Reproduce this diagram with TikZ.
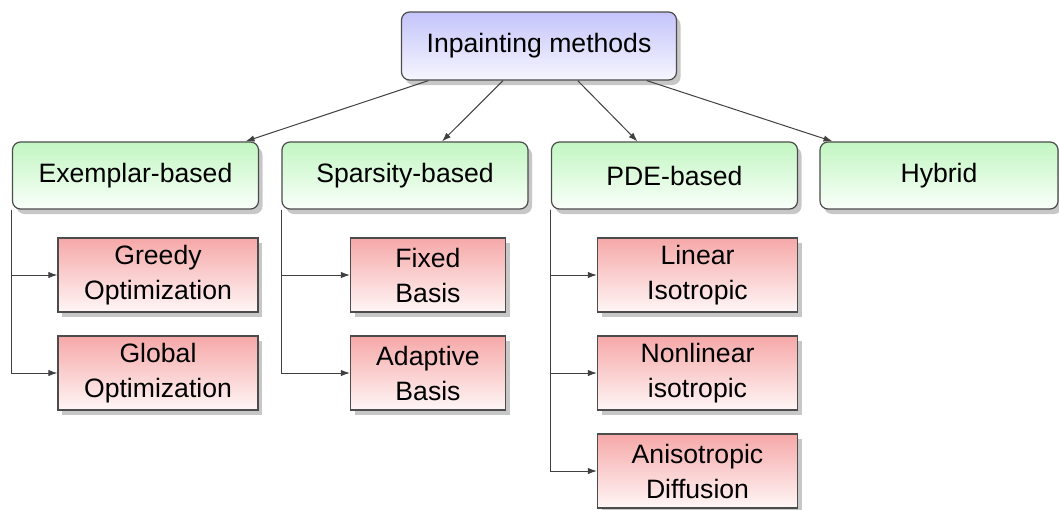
\documentclass[tikz,border=0pt]{standalone}
\usepackage{fontspec}
\setmainfont{Liberation Sans}
\usetikzlibrary{shadows,calc,arrows.meta}

\definecolor{rootTop}{RGB}{196,196,250}
\definecolor{rootBot}{RGB}{246,246,255}
\definecolor{grpTop}{RGB}{194,246,194}
\definecolor{grpBot}{RGB}{250,255,250}
\definecolor{leafTop}{RGB}{246,168,168}
\definecolor{leafBot}{RGB}{255,246,246}

\tikzset{
	box/.style={draw=black!70, line width=0.6pt, align=center, inner sep=0pt,
		font=\fontsize{13.3}{17.5}\selectfont,
		drop shadow={shadow xshift=2pt, shadow yshift=-2.5pt, fill=black!22, opacity=1}},
	rootbox/.style={box, rounded corners=4pt, top color=rootTop, bottom color=rootBot,
		minimum width=137.5pt, minimum height=34pt},
	grpbox/.style={box, rounded corners=4pt, top color=grpTop, bottom color=grpBot,
		minimum width=123pt, minimum height=33.5pt},
	leafbox/.style={box, top color=leafTop, bottom color=leafBot,
		minimum width=100pt, minimum height=37pt},
	link/.style={draw=black!75, line width=0.5pt, -{Latex[length=4.5pt,width=3.2pt]}}
}

\begin{document}
\begin{tikzpicture}[x=0.5pt,y=-0.5pt]
	\useasboundingbox (0,0) rectangle (1059,509);

	\node[rootbox] (root) at (539,46) {Inpainting methods};

	% second row
	\node[grpbox] (ex)  at (135.5,175.5) {Exemplar-based};
	\node[grpbox] (sp)  at (405,175.5) {Sparsity-based};
	\node[grpbox] (pde) at (674.5,175.5) {PDE-based};
	\node[grpbox, minimum width=119pt] (hyb) at (939,175.5) {Hybrid};

	% leaves
	\node[leafbox] (greedy) at (158,275) {Greedy\\Optimization};
	\node[leafbox] (global) at (158,373) {Global\\Optimization};
	\node[leafbox, minimum width=77.5pt] (fixed) at (428,275) {Fixed\\Basis};
	\node[leafbox, minimum width=77.5pt] (adaptive) at (428,373) {Adaptive\\Basis};
	\node[leafbox] (linear) at (697.5,275) {Linear\\Isotropic};
	\node[leafbox] (nonlinear) at (697.5,373) {Nonlinear\\isotropic};
	\node[leafbox] (aniso) at (697.5,471) {Anisotropic\\Diffusion};

	\foreach \g/\a/\b in {ex/0.1/0.945, sp/0.37/0.65, pde/0.64/0.35, hyb/0.89/0.055} {
		\draw[link] ($(root.south west)!\a!(root.south east)$) -- ($(\g.north west)!\b!(\g.north east)$);
	}

	\foreach \g/\c in {ex/greedy, ex/global, sp/fixed, sp/adaptive, pde/linear, pde/nonlinear, pde/aniso} {
		\draw[link] (\g.south west) |- (\c.west);
	}
\end{tikzpicture}
\end{document}
